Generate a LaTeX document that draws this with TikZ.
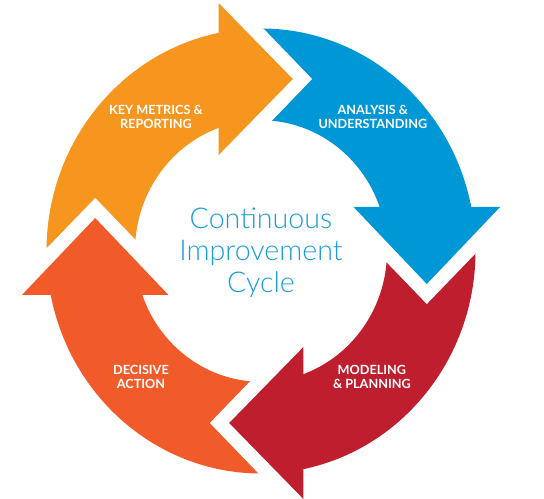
\documentclass[tikz,border=0pt]{standalone}
\usepackage{fontspec}
\setmainfont{Lato}
\IfFontExistsTF{Lato Light}{\newfontfamily\thinfont{Lato Light}}{\newfontfamily\thinfont{Lato}}
\definecolor{keyorange}{RGB}{247,150,30}
\definecolor{anablue}{RGB}{0,151,214}
\definecolor{modred}{RGB}{190,30,46}
\definecolor{decorange}{RGB}{241,91,42}
\definecolor{titleblue}{RGB}{27,157,217}

\begin{document}
\begin{tikzpicture}[x=0.02cm,y=0.02cm,xscale=0.964,
    arrowtext/.style={text=white,font=\fontsize{7.2}{7.9}\selectfont\bfseries,align=center},
    centretext/.style={text=titleblue,font=\thinfont\fontsize{16.3}{18.1}\selectfont,align=center}]
    \useasboundingbox (-270.75,-248) rectangle (293.57,251);

    % bands of the four arrows
    \foreach \ang/\col in {0/keyorange,-90/anablue,-180/modred,-270/decorange}{
      \begin{scope}[rotate=\ang]
        \clip (-43,-300) rectangle (-300,300);
        \fill[\col] (95:222.5) arc[start angle=95,end angle=185,radius=222.5]
          -- (185:130.7) arc[start angle=185,end angle=95,radius=130.7] -- cycle;
      \end{scope}
    }
    % heads, with a white gap round them
    \foreach \ang/\col in {0/keyorange,-90/anablue,-180/modred,-270/decorange}{
      \begin{scope}[rotate=\ang]
        \fill[white] (-43,268) -- (53,172) -- (-43,76) -- cycle;
        \fill[\col] (-44,248) -- (33,172) -- (-44,96) -- cycle;
      \end{scope}
    }

    \node[arrowtext] (keymetrics) at (-109,134) {KEY METRICS \&\\REPORTING};
    \node[arrowtext] (analysis)   at (116,134)  {ANALYSIS \&\\UNDERSTANDING};
    \node[arrowtext] (modeling)   at (115,-126) {MODELING\\\& PLANNING};
    \node[arrowtext] (decisive)   at (-124.5,-126) {DECISIVE\\ACTION};
    \node[centretext] (cycle)     at (0,-2) {Continuous\\Improvement\\Cycle};
\end{tikzpicture}
\end{document}
